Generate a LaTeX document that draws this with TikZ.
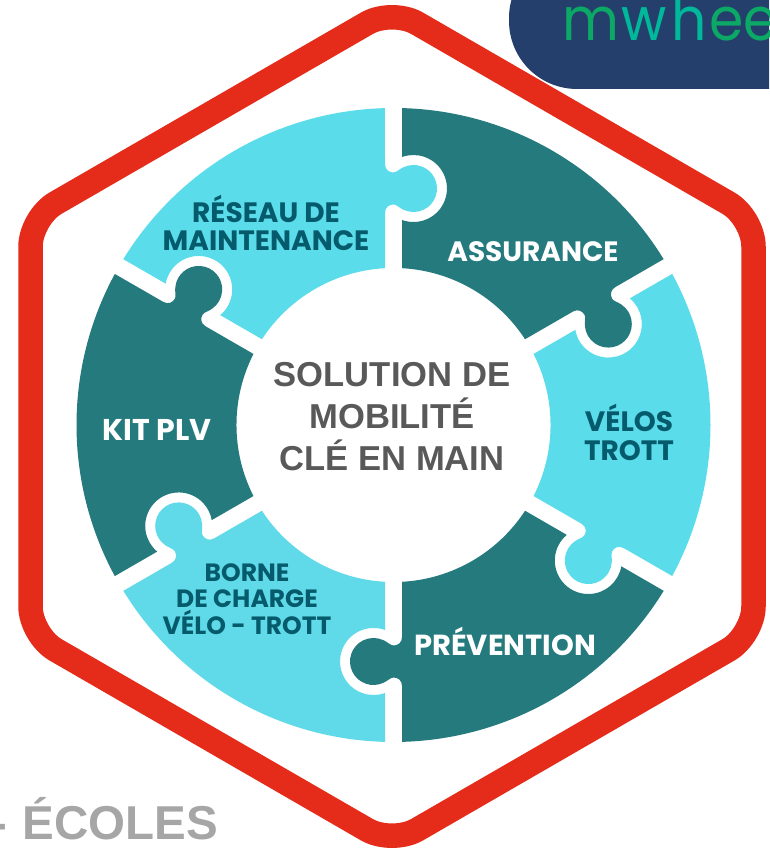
\documentclass[tikz,border=0pt]{standalone}
\usepackage{fontspec}
\setmainfont{Liberation Sans}
\newfontfamily\pop{Poppins}
\definecolor{hexred}{HTML}{E52B1A}
\definecolor{navy}{HTML}{253F6C}
\definecolor{tealdark}{HTML}{257A7E}
\definecolor{cyanlight}{HTML}{5ADCEA}
\definecolor{cyanborne}{HTML}{60DAE8}
\definecolor{inktxt}{HTML}{055A6B}
\definecolor{centertxt}{HTML}{595959}
\definecolor{bottomtxt}{HTML}{A6A6A6}
\definecolor{logoa}{HTML}{0BA866}
\definecolor{logob}{HTML}{00B89A}
\tikzset{
  lab/.style 2 args={font=\pop\bfseries\fontsize{#1}{#2}\selectfont,align=center,inner sep=0pt},
  centerlab/.style={font=\bfseries\fontsize{34.6}{42}\selectfont,text=centertxt,align=center,inner sep=0pt},
}
\newcommand\piecepath{
  (8.5,156.8) -- (8.5,205) arc[start angle=-110,end angle=110,radius=33.5pt]
  -- (8.5,316.9) arc[start angle=88.46,end angle=31.54,radius=317pt]
  -- ([rotate=-60]-8.5,261)
  .. controls ([rotate=-60]-8.5,255) and ([rotate=-60]-4,252.5) .. ([rotate=-60]0,252.5)
  .. controls ([rotate=-60]3,252.5) and ([rotate=-60]6,256) .. ([rotate=-60]9.7,257.6)
  arc[start angle=56,end angle=-176,radius=23.5pt]
  .. controls ([rotate=-60]6,217) and ([rotate=-60]3,220.5) .. ([rotate=-60]0,220.5)
  .. controls ([rotate=-60]-4,220.5) and ([rotate=-60]-8.5,218) .. ([rotate=-60]-8.5,212)
  -- ([rotate=-60]-8.5,156.8)
  arc[start angle=33.1,end angle=86.9,radius=157pt] -- cycle
}
\begin{document}
\begin{tikzpicture}[x=1pt,y=1pt]
\useasboundingbox (0,0) rectangle (769,850);
\begin{scope}
\clip (0,0) rectangle (769,850);
% logo
\fill[navy,rounded corners=68pt] (509,900) rectangle (900,761);
\node[anchor=base west,inner sep=0pt,xscale=0.92,font=\pop\fontsize{60}{60}\selectfont] (logo) at (562,809)
  {\textcolor{logoa}{m}\kern3pt\textcolor{logob}{w}\kern5pt\textcolor{logob}{h}\kern3pt\textcolor{logoa}{eel}};
% hexagon
\draw[hexred,line width=24.5pt,rounded corners=29pt,line join=round]
  (392,841.2) -- (30.5,632.35) -- (30.5,214.65) -- (392,5.8) -- (753.5,214.65) -- (753.5,632.35) -- cycle;
% pieces
\foreach \r/\c in {0/tealdark,-60/cyanlight,-120/tealdark,-180/cyanborne,-240/tealdark,-300/cyanlight}{
  \begin{scope}[shift={(393.5,425)},rotate=\r]
    \fill[\c] \piecepath;
  \end{scope}
}
\node[centerlab] (centre) at (392,433) {SOLUTION DE\\MOBILITÉ\\CLÉ EN MAIN};
\node[lab={28}{28},text=white] (assurance) at (533,598) {ASSURANCE};
\node[lab={28}{29},text=inktxt] (velos) at (629,418) {VÉLOS\\TROTT};
\node[lab={29}{29},text=white] (prevention) at (505,209) {PRÉVENTION};
\node[lab={25}{26.5},text=inktxt] (borne) at (247,251) {BORNE\\DE CHARGE\\VÉLO - TROTT};
\node[lab={30}{30},text=white] (kit) at (157,420) {KIT PLV};
\node[lab={28}{28},text=inktxt] (reseau) at (266,627) {RÉSEAU DE\\MAINTENANCE};
\node[anchor=base east,inner sep=0pt,font=\bfseries\fontsize{47.5}{48}\selectfont,text=bottomtxt] (ecoles) at (218.5,10) {-\hspace{2pt} ÉCOLES};
\end{scope}
\end{tikzpicture}
\end{document}
